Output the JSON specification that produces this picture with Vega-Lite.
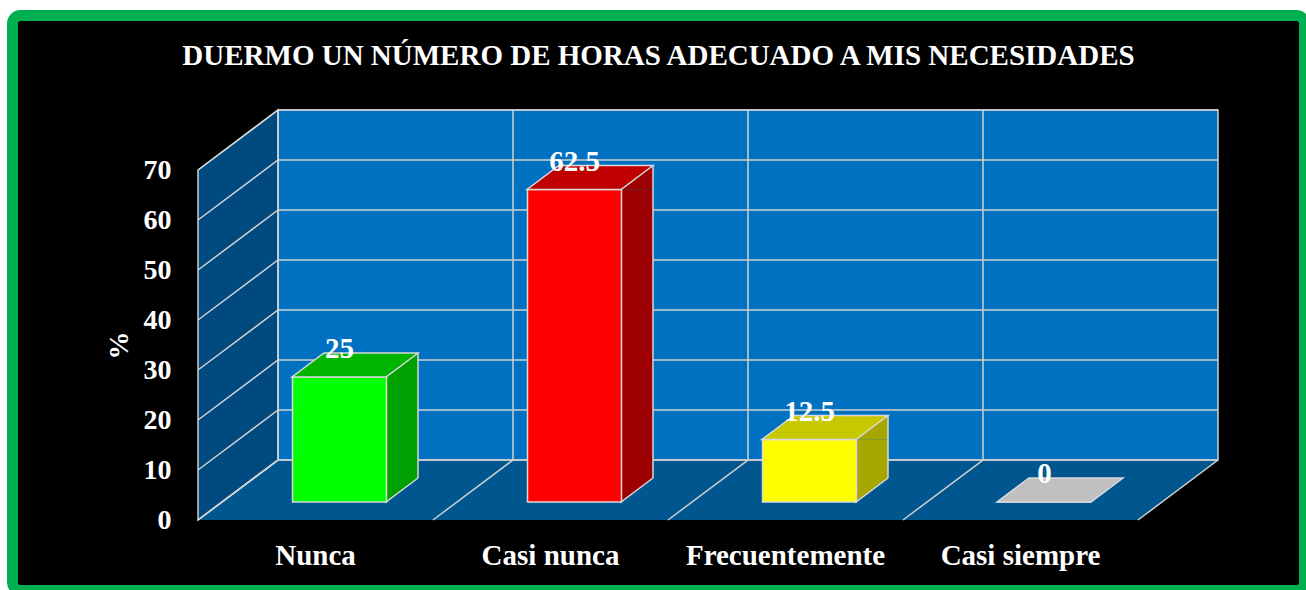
{
  "$schema": "https://vega.github.io/schema/vega-lite/v6.json",
  "width": 1292,
  "height": 575,
  "autosize": {"type": "none"},
  "padding": {"left": 12.5, "top": 15.5, "right": 1.5, "bottom": 0},
  "background": "white",
  "config": {
    "font": "Liberation Serif",
    "view": {"fill": "black", "stroke": "#00B050", "strokeWidth": 11, "cornerRadius": 8}
  },
  "title": {
    "text": "DUERMO UN NÚMERO DE HORAS ADECUADO A MIS NECESIDADES",
    "color": "white",
    "fontSize": 29,
    "fontWeight": "bold",
    "font": "Liberation Serif",
    "anchor": "middle",
    "frame": "group",
    "baseline": "alphabetic",
    "offset": -78
  },
  "datasets": {
    "resp": [
      {"cat": "Nunca", "pct": 25},
      {"cat": "Casi nunca", "pct": 62.5},
      {"cat": "Frecuentemente", "pct": 12.5},
      {"cat": "Casi siempre", "pct": 0}
    ],
    "ticks": [{"v": 0}, {"v": 10}, {"v": 20}, {"v": 30}, {"v": 40}, {"v": 50}, {"v": 60}, {"v": 70}],
    "one": [{"part": "frame"}]
  },
  "layer": [
    {
      "data": {"name": "one"},
      "mark": {"type": "point", "filled": true, "opacity": 1, "size": 4, "fill": "#00568F", "strokeWidth": 0,
        "shape": "M-117.5,0 L822.5,0 L902.5,-60 L-37.5,-60 Z"},
      "encoding": {
        "x": {"datum": "Nunca", "type": "nominal",
          "scale": {"domain": ["Nunca", "Casi nunca", "Frecuentemente", "Casi siempre"], "range": [185.5, 1125.5], "paddingInner": 0, "paddingOuter": 0}},
        "y": {"datum": 0, "type": "quantitative",
          "scale": {"domain": [0, 70], "range": [504.5, 154.5], "nice": false, "zero": true}}
      }
    },
    {
      "data": {"name": "one"},
      "mark": {"type": "point", "filled": true, "opacity": 1, "size": 4, "fill": "#0070C0", "stroke": "#D0D0D0", "strokeWidth": 1.5,
        "shape": "M-37.5,-60 L902.5,-60 L902.5,-410 L-37.5,-410 Z"},
      "encoding": {
        "x": {"datum": "Nunca", "type": "nominal"},
        "y": {"datum": 0, "type": "quantitative"}
      }
    },
    {
      "data": {"name": "one"},
      "mark": {"type": "point", "filled": true, "opacity": 1, "size": 4, "fill": "#004A7F", "stroke": "#D0D0D0", "strokeWidth": 1.5,
        "shape": "M-117.5,0 L-37.5,-60 L-37.5,-410 L-117.5,-350 Z"},
      "encoding": {
        "x": {"datum": "Nunca", "type": "nominal"},
        "y": {"datum": 0, "type": "quantitative"}
      }
    },
    {
      "data": {"name": "ticks"},
      "mark": {"type": "point", "filled": false, "opacity": 1, "size": 4, "color": "#D0D0D0", "strokeWidth": 1.5,
        "shape": "M-117.5,0 L-37.5,-60 L902.5,-60"},
      "encoding": {
        "x": {"datum": "Nunca", "type": "nominal"},
        "y": {"field": "v", "type": "quantitative"}
      }
    },
    {
      "data": {"name": "resp"},
      "mark": {"type": "point", "filled": false, "opacity": 1, "size": 4, "color": "#D0D0D0", "strokeWidth": 1.5,
        "shape": "M-117.5,0 L-37.5,-60 L-37.5,-410"},
      "encoding": {
        "x": {"field": "cat", "type": "nominal"},
        "y": {"datum": 0, "type": "quantitative"}
      }
    },
    {
      "data": {"name": "one"},
      "mark": {"type": "point", "filled": false, "opacity": 1, "size": 4, "color": "#D0D0D0", "strokeWidth": 1.5,
        "shape": "M822.5,0 L902.5,-60"},
      "encoding": {
        "x": {"datum": "Nunca", "type": "nominal"},
        "y": {"datum": 0, "type": "quantitative"}
      }
    },
    {
      "data": {"name": "resp"},
      "transform": [{"filter": "datum.pct > 0"}],
      "mark": {"type": "bar", "width": 32, "xOffset": 86.5, "yOffset": -18, "y2Offset": -42},
      "encoding": {
        "x": {"field": "cat", "type": "nominal"},
        "y": {"field": "pct", "type": "quantitative"},
        "y2": {"datum": 0},
        "color": {"field": "cat", "type": "nominal", "legend": null,
          "scale": {"domain": ["Nunca", "Casi nunca", "Frecuentemente", "Casi siempre"], "range": ["#00A000", "#9C0000", "#A6A600", "#A0A0A0"]}}
      }
    },
    {
      "data": {"name": "resp"},
      "transform": [{"filter": "datum.pct > 0"}],
      "mark": {"type": "point", "filled": true, "opacity": 1, "size": 4, "strokeWidth": 0,
        "shape": "M70.5,-18 L102.5,-42 L102.5,-18 Z"},
      "encoding": {
        "x": {"field": "cat", "type": "nominal"},
        "y": {"field": "pct", "type": "quantitative"},
        "color": {"field": "cat", "type": "nominal", "legend": null,
          "scale": {"domain": ["Nunca", "Casi nunca", "Frecuentemente", "Casi siempre"], "range": ["#00A000", "#9C0000", "#A6A600", "#A0A0A0"]}}
      }
    },
    {
      "data": {"name": "resp"},
      "transform": [{"filter": "datum.pct > 0"}],
      "mark": {"type": "point", "filled": true, "opacity": 1, "size": 4, "stroke": "#D9D9D9", "strokeWidth": 1.5,
        "shape": "M70.5,-42 L70.5,-18 L102.5,-42"},
      "encoding": {
        "x": {"field": "cat", "type": "nominal"},
        "y": {"datum": 0, "type": "quantitative"},
        "color": {"field": "cat", "type": "nominal", "legend": null,
          "scale": {"domain": ["Nunca", "Casi nunca", "Frecuentemente", "Casi siempre"], "range": ["#00A000", "#9C0000", "#A6A600", "#A0A0A0"]}}
      }
    },
    {
      "data": {"name": "resp"},
      "transform": [{"filter": "datum.pct > 0"}],
      "mark": {"type": "rule", "color": "#D9D9D9", "strokeWidth": 1.5, "xOffset": 102.5, "yOffset": -42, "y2Offset": -42},
      "encoding": {
        "x": {"field": "cat", "type": "nominal"},
        "y": {"field": "pct", "type": "quantitative"},
        "y2": {"datum": 0}
      }
    },
    {
      "data": {"name": "resp"},
      "mark": {"type": "bar", "width": 94, "xOffset": 24, "yOffset": -18, "y2Offset": -18, "stroke": "#D9D9D9", "strokeWidth": 1.5},
      "encoding": {
        "x": {"field": "cat", "type": "nominal",
          "axis": {"orient": "bottom", "offset": -70.5, "title": null, "domain": false, "ticks": false, "labelAngle": 0,
            "labelAlign": "center", "labelLimit": 0, "labelOverlap": false,
            "labelColor": "white", "labelFontSize": 29, "labelFontWeight": "bold", "labelBaseline": "alphabetic", "labelPadding": 44}},
        "y": {"field": "pct", "type": "quantitative",
          "axis": {"orient": "left", "offset": -185.5, "title": "%", "domain": false, "ticks": false, "grid": false,
            "values": [0, 10, 20, 30, 40, 50, 60, 70],
            "labelColor": "white", "labelFontSize": 28, "labelFontWeight": "bold", "labelPadding": 27, "labelBaseline": "middle",
            "titleColor": "white", "titleFontSize": 28, "titleFontWeight": "bold", "titlePadding": 10}},
        "y2": {"datum": 0},
        "color": {"field": "cat", "type": "nominal", "legend": null,
          "scale": {"domain": ["Nunca", "Casi nunca", "Frecuentemente", "Casi siempre"], "range": ["#00FF00", "#FF0000", "#FFFF00", "#C0C0C0"]}}
      }
    },
    {
      "data": {"name": "resp"},
      "mark": {"type": "point", "filled": true, "opacity": 1, "size": 4, "stroke": "#D9D9D9", "strokeWidth": 1.5,
        "shape": "M-23.5,-18 L70.5,-18 L102.5,-42 L8.5,-42 Z"},
      "encoding": {
        "x": {"field": "cat", "type": "nominal"},
        "y": {"field": "pct", "type": "quantitative"},
        "color": {"field": "cat", "type": "nominal", "legend": null,
          "scale": {"domain": ["Nunca", "Casi nunca", "Frecuentemente", "Casi siempre"], "range": ["#00B400", "#C00000", "#C8C800", "#C0C0C0"]}}
      }
    },
    {
      "data": {"name": "resp"},
      "mark": {"type": "text", "color": "white", "fontSize": 29, "fontWeight": "bold", "align": "center", "baseline": "alphabetic", "dx": 24, "dy": -37},
      "encoding": {
        "x": {"field": "cat", "type": "nominal"},
        "y": {"field": "pct", "type": "quantitative"},
        "text": {"field": "pct", "type": "quantitative"}
      }
    }
  ],
  "resolve": {"scale": {"color": "independent"}}
}
